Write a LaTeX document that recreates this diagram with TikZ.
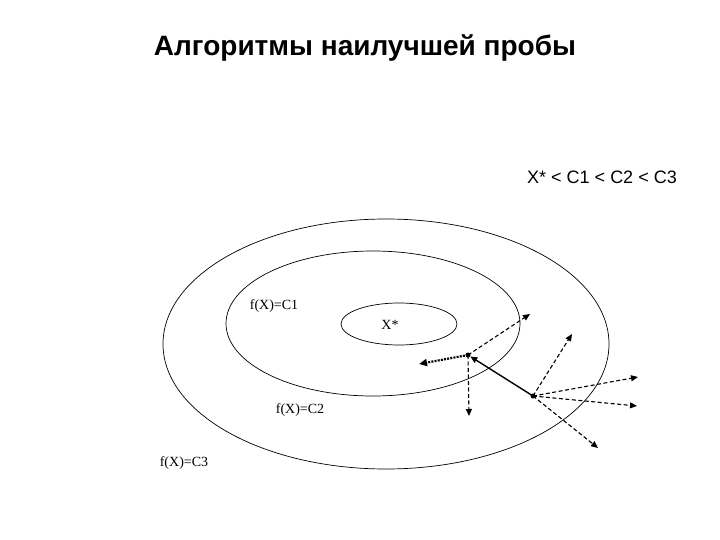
\documentclass[tikz,border=0pt]{standalone}
\usepackage{fontspec}
\setmainfont{Liberation Serif}
\newfontfamily\arialfont{Liberation Sans}
\usetikzlibrary{arrows.meta}
\tikzset{
  contour/.style={line width=0.7pt},
  lbl/.style={inner sep=0pt, font=\fontsize{14}{16}\selectfont},
  probe/.style={dash pattern=on 4pt off 2.5pt, line width=1.1pt, -{Triangle[length=7pt,width=6pt]}},
  dotprobe/.style={dash pattern=on 2pt off 1.2pt, line width=2.2pt, -{Triangle[length=8pt,width=7pt]}},
  move/.style={line width=1.4pt, -{Triangle[length=7pt,width=6pt]}},
  pt/.style={circle, fill=black, inner sep=0pt, minimum size=5pt}
}
\begin{document}
\begin{tikzpicture}[x=1pt,y=-1pt]
\useasboundingbox (0,0) rectangle (720,540);
\node[inner sep=0pt, font=\arialfont\bfseries\fontsize{28}{32}\selectfont] (title) at (365,48) {Алгоритмы наилучшей пробы};
\node[inner sep=0pt, font=\arialfont\fontsize{18}{20}\selectfont] (order) at (602,177) {X* < C1 < C2 < C3};
\draw[contour] (386,344) ellipse [x radius=223pt, y radius=125pt];
\draw[contour] (373,323.5) ellipse [x radius=147pt, y radius=72.5pt];
\draw[contour] (399,324) ellipse [x radius=58pt, y radius=21pt];
\node[lbl] (c1) at (274,306) {f(X)=C1};
\node[lbl] (c2) at (300,410) {f(X)=C2};
\node[lbl] (c3) at (184,463) {f(X)=C3};
\node[lbl] (xs) at (390,325) {X*};
\node[pt] (A) at (468,355) {};
\node[pt] (B) at (533,396) {};
\coordinate (a1) at (530,314);
\coordinate (a2) at (469,416);
\coordinate (a3) at (419,364);
\coordinate (b1) at (572,334);
\coordinate (b2) at (638,377);
\coordinate (b3) at (637,406);
\coordinate (b4) at (598,448);
\draw[move] (B.center) -- (A);
\draw[probe] (A.center) -- (a1);
\draw[probe] (A.center) -- (a2);
\draw[dotprobe] (A.center) -- (a3);
\draw[probe] (B.center) -- (b1);
\draw[probe] (B.center) -- (b2);
\draw[probe] (B.center) -- (b3);
\draw[probe] (B.center) -- (b4);
\end{tikzpicture}
\end{document}
